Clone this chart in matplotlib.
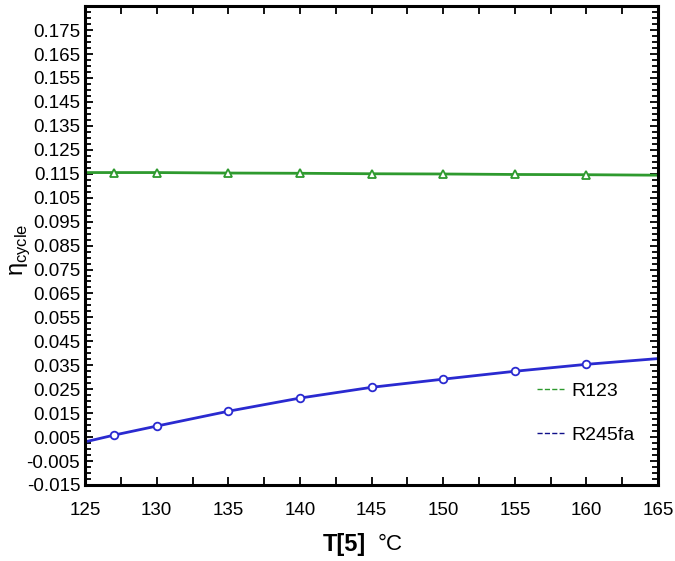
import matplotlib
matplotlib.use("Agg")
import matplotlib.pyplot as plt
from matplotlib.ticker import MultipleLocator, FormatStrFormatter
import numpy as np

plt.rcParams['font.family'] = ['Liberation Sans', 'DejaVu Sans']

# cycle efficiency vs turbine inlet temperature T[5]
t_line = [125, 127, 130, 135, 140, 145, 150, 155, 160, 165]
eta_r123 = [0.1155, 0.1155, 0.1155, 0.1153, 0.1152, 0.1150, 0.1149, 0.1147, 0.1146, 0.1144]
eta_r245fa = [0.0030, 0.0058, 0.0096, 0.0158, 0.0213, 0.0258, 0.0292, 0.0325, 0.0354, 0.0378]

green = '#2e9a2e'
blue = '#2a2ad0'

fig = plt.figure(figsize=(6.75, 5.61), dpi=100)
ax = fig.add_axes([0.126, 0.1355, 0.849, 0.8535])

marks = list(range(1, len(t_line) - 1))
ax.plot(t_line, eta_r123, color=green, lw=2, marker='^', ms=5.5,
        mfc='white', mec=green, mew=1.3, markevery=marks)
ax.plot(t_line, eta_r245fa, color=blue, lw=2, marker='o', ms=5.5,
        mfc='white', mec=blue, mew=1.3, markevery=marks)

# legend entries drawn with short dashed keys
ax.plot([], [], color=green, lw=1, ls='--', label='R123')
ax.plot([], [], color='#10108a', lw=1, ls='--', label='R245fa')
handles, labels = ax.get_legend_handles_labels()
ax.legend(handles[-2:], labels[-2:], loc='lower right', frameon=False,
          bbox_to_anchor=(0.99, 0.05), fontsize=14, handlelength=1.4,
          handletextpad=0.4, labelspacing=1.35)

ax.set_xlim(125, 165)
ax.set_ylim(-0.015, 0.185)
ax.xaxis.set_major_locator(MultipleLocator(5))
ax.xaxis.set_minor_locator(MultipleLocator(2.5))
ax.set_yticks(np.arange(-0.015, 0.176, 0.01))
ax.yaxis.set_major_formatter(FormatStrFormatter('%.3f'))
ax.yaxis.set_minor_locator(MultipleLocator(0.0025))

ax.tick_params(which='both', direction='in', top=True, right=True,
               labelsize=13.5, width=1.3, colors='black')
ax.tick_params(which='major', length=6)
ax.tick_params(which='minor', length=4)
ax.tick_params(axis='x', which='minor', length=6)
ax.tick_params(axis='x', which='major', pad=12)
for s in ax.spines.values():
    s.set_linewidth(2.2)

fig.text(0.03, 0.555, r'η$_{\mathregular{cycle}}$', fontsize=17, rotation=90,
         ha='center', va='center')
fig.text(0.51, 0.03, 'T[5]', fontsize=17, fontweight='bold', ha='center', va='center')
fig.text(0.578, 0.03, '°C', fontsize=16, ha='center', va='center')

fig.savefig('out.png', dpi=100)
